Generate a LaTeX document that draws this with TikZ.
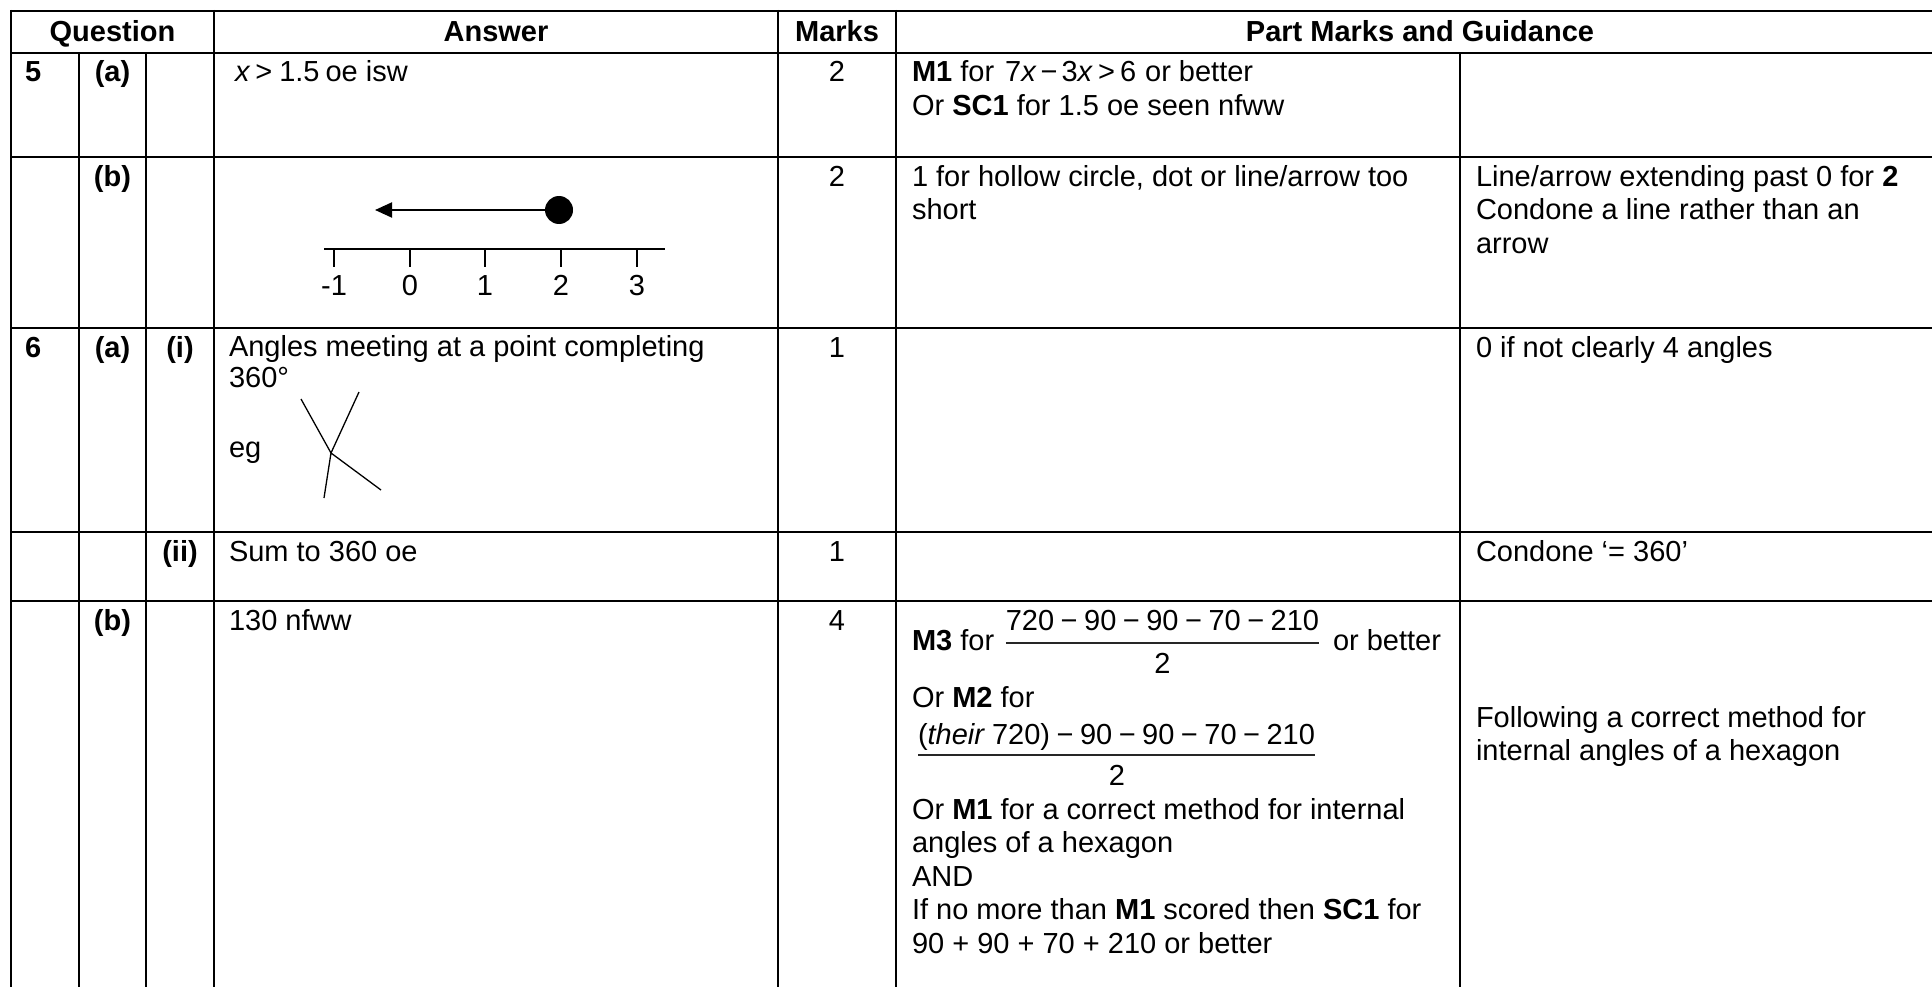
\documentclass[tikz,border=0pt]{standalone}
\usepackage{fontspec}
\setmainfont{Liberation Sans}
\usetikzlibrary{arrows.meta}
\newcommand{\mm}{\hspace{6.5pt}−\hspace{6.5pt}}
\begin{document}
\begin{tikzpicture}[x=1pt,y=-1pt,
  grid/.style={line width=2pt},
  txt/.style={anchor=base west, inner sep=0pt, outer sep=0pt, font=\fontsize{29}{33.5}\selectfont},
  ctxt/.style={anchor=base, inner sep=0pt, outer sep=0pt, font=\fontsize{29}{33.5}\selectfont},
  hdr/.style={ctxt, font=\fontsize{29}{33.5}\selectfont\bfseries},
  lbl/.style={txt, font=\fontsize{29}{33.5}\selectfont\bfseries},
  clbl/.style={ctxt, font=\fontsize{29}{33.5}\selectfont\bfseries},
  fig/.style={line width=1.3pt},
  bar/.style={line width=1.6pt, black!85}
]
\useasboundingbox (0,0) rectangle (1932,987);
% table rules
\draw[grid] (10,11) -- (1932,11);
\foreach \y in {53,157,328,532,601} {\draw[grid] (10,\y) -- (1932,\y);}
\draw[grid] (11,10) -- (11,987);
\draw[grid] (79,53) -- (79,987);
\draw[grid] (146,53) -- (146,987);
\draw[grid] (214,10) -- (214,987);
\draw[grid] (778,10) -- (778,987);
\draw[grid] (896,10) -- (896,987);
\draw[grid] (1460,53) -- (1460,987);
% header
\node[hdr] (hq) at (112.5,42) {Question};
\node[hdr] (ha) at (496,42) {Answer};
\node[hdr] (hm) at (837,42) {Marks};
\node[hdr] (hg) at (1420,42) {Part Marks and Guidance};
% row 5(a)
\node[lbl] (q5) at (25,82) {5};
\node[clbl] (q5a) at (112.5,82) {(a)};
\node[txt] (a5a) at (235,82) {\textit{x}\hspace{5pt}>\hspace{7pt}1.5\hspace{6pt}oe isw};
\node[ctxt] (m5a) at (837,82) {2};
\node[txt] (g5a1) at (912,82) {\textbf{M1} for\hspace{11pt}7\textit{x}\hspace{4pt}−\hspace{4pt}3\textit{x}\hspace{5pt}>\hspace{5pt}6\hspace{9pt}or better};
\node[txt] (g5a2) at (912,116) {Or \textbf{SC1} for 1.5 oe seen nfww};
% row 5(b)
\node[clbl] (q5b) at (112.5,186) {(b)};
\node[ctxt] (m5b) at (837,186) {2};
\node[txt] (g5b1) at (912,186) {1 for hollow circle, dot or line/arrow too};
\node[txt] (g5b2) at (912,219.5) {short};
\node[txt] (h5b1) at (1476,186) {Line/arrow extending past 0 for \textbf{2}};
\node[txt] (h5b2) at (1476,219.5) {Condone a line rather than an};
\node[txt] (h5b3) at (1476,253) {arrow};
% number line
\draw[line width=2pt] (324,249) -- (665,249);
\foreach \x/\l [count=\i] in {334/-1,410/0,485/1,561/2,637/3} {
  \draw[line width=1.5pt] (\x,249) -- (\x,267);
  \node[ctxt] (nl\i) at (\x,295) {\l};
}
\node[circle, fill=black, minimum size=28pt, inner sep=0pt] (dot) at (559,210) {};
\coordinate (tip) at (375,210);
\draw[line width=2pt, -{Triangle[length=17pt,width=15pt]}] (dot.west) -- (tip);
% row 6(a)(i)
\node[lbl] (q6) at (25,357) {6};
\node[clbl] (q6a) at (112.5,357) {(a)};
\node[clbl] (q6ai) at (180,357) {(i)};
\node[txt] (a6a1) at (229,356) {Angles meeting at a point completing};
\node[txt] (a6a2) at (229,387) {360°};
\node[txt] (a6a3) at (229,457) {eg};
\coordinate (J) at (331,453);
\coordinate (fa) at (301,399);
\coordinate (fb) at (359,392);
\coordinate (fc) at (324,498);
\coordinate (fd) at (381,490);
\draw[fig] (fa) -- (J) -- (fb);
\draw[fig] (fc) -- (J) -- (fd);
\node[ctxt] (m6a) at (837,357) {1};
\node[txt] (h6a) at (1476,357) {0 if not clearly 4 angles};
% row 6(a)(ii)
\node[clbl] (q6aii) at (180,561) {(ii)};
\node[txt] (a6aii) at (229,561) {Sum to 360 oe};
\node[ctxt] (m6aii) at (837,561) {1};
\node[txt] (h6aii) at (1476,561) {Condone ‘= 360’};
% row 6(b)
\node[clbl] (q6b) at (112.5,630) {(b)};
\node[txt] (a6b) at (229,630) {130 nfww};
\node[ctxt] (m6b) at (837,630) {4};
\node[txt] (g6b1) at (912,650) {\textbf{M3} for};
\node[ctxt] (num1) at (1162.5,630) {720\mm 90\mm 90\mm 70\mm 210};
\coordinate (b1) at (0,643);
\draw[bar] (num1.west |- b1) -- (num1.east |- b1);
\node[ctxt] (den1) at (1162.5,673) {2};
\node[txt] (g6b2) at (1333,650) {or better};
\node[txt] (g6b3) at (912,707) {Or \textbf{M2} for};
\node[ctxt] (num2) at (1116.5,744) {(\textit{their}\hspace{7pt}720)\mm 90\mm 90\mm 70\mm 210};
\coordinate (b2) at (0,755);
\draw[bar] (num2.west |- b2) -- (num2.east |- b2);
\node[ctxt] (den2) at (1117,785) {2};
\node[txt] (g6b4) at (912,819) {Or \textbf{M1} for a correct method for internal};
\node[txt] (g6b5) at (912,852.5) {angles of a hexagon};
\node[txt] (g6b6) at (912,886) {AND};
\node[txt] (g6b7) at (912,919.5) {If no more than \textbf{M1} scored then \textbf{SC1} for};
\node[txt] (g6b8) at (912,953) {90 + 90 + 70 + 210 or better};
\node[txt] (h6b1) at (1476,727) {Following a correct method for};
\node[txt] (h6b2) at (1476,760) {internal angles of a hexagon};
\end{tikzpicture}
\end{document}
